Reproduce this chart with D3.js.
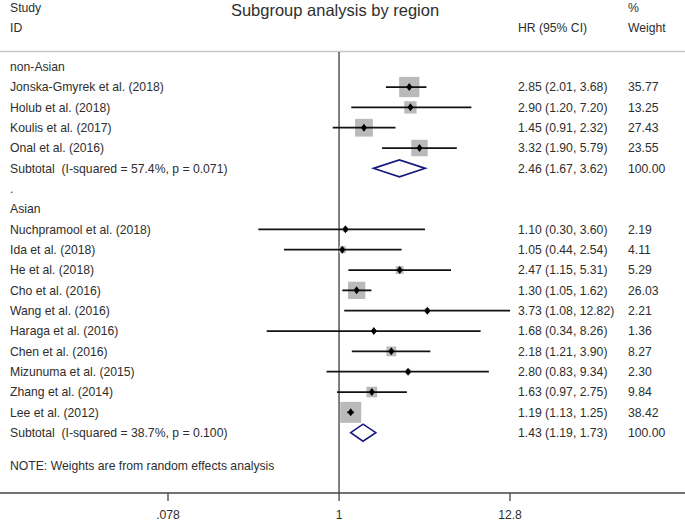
<!DOCTYPE html>
<html><head><meta charset="utf-8">
<script src="https://cdn.jsdelivr.net/npm/d3@7"></script>
<style>
body{margin:0;background:#fff;}
text{font-family:"Liberation Sans",Arial,sans-serif;fill:#2e2e2e;white-space:pre;}
</style></head>
<body><svg id="c" width="685" height="520"></svg>
<script>
const labels = ["non-Asian","Jonska-Gmyrek et al. (2018)","Holub et al. (2018)","Koulis et al. (2017)","Onal et al. (2016)","Subtotal  (I-squared = 57.4%, p = 0.071)",".","Asian","Nuchpramool et al. (2018)","Ida et al. (2018)","He et al. (2018)","Cho et al. (2016)","Wang et al. (2016)","Haraga et al. (2016)","Chen et al. (2016)","Mizunuma et al. (2015)","Zhang et al. (2014)","Lee et al. (2012)","Subtotal  (I-squared = 38.7%, p = 0.100)"];
const kinds  = ["head","study","study","study","study","sub","dot","head","study","study","study","study","study","study","study","study","study","study","sub"];
const hr     = [null,2.85,2.90,1.45,3.32,2.46,null,null,1.10,1.05,2.47,1.30,3.73,1.68,2.18,2.80,1.63,1.19,1.43];
const lo     = [null,2.01,1.20,0.91,1.90,1.67,null,null,0.30,0.44,1.15,1.05,1.08,0.34,1.21,0.83,0.97,1.13,1.19];
const hi     = [null,3.68,7.20,2.32,5.79,3.62,null,null,3.60,2.54,5.31,1.62,12.82,8.26,3.90,9.34,2.75,1.25,1.73];
const weights= [null,35.77,13.25,27.43,23.55,100.00,null,null,2.19,4.11,5.29,26.03,2.21,1.36,8.27,2.30,9.84,38.42,100.00];
const tickVals = [0.078,1,12.8];
const tickLabels = [".078","1","12.8"];

const svg = d3.select("#c");
const x = d3.scaleLog().domain([0.078,12.8]).range([168,510]);
const y = d3.scaleLinear().domain([0,18]).range([66.7,432.7]);
const side = d3.scaleSqrt().domain([0,38.42]).range([0,21]);
const fmt = d3.format(".2f");
const fs = 12.2;

// header
svg.append("text").attr("x",10).attr("y",12).attr("font-size",fs).text("Study");
svg.append("text").attr("x",10).attr("y",31.5).attr("font-size",fs).text("ID");
svg.append("text").attr("x",335).attr("y",16).attr("font-size",16.5).attr("text-anchor","middle").text("Subgroup analysis by region");
svg.append("text").attr("x",518).attr("y",31.5).attr("font-size",fs).text("HR (95% CI)");
svg.append("text").attr("x",628).attr("y",12).attr("font-size",fs).text("%");
svg.append("text").attr("x",628).attr("y",31.5).attr("font-size",fs).text("Weight");
svg.append("line").attr("x1",0).attr("x2",685).attr("y1",51.5).attr("y2",51.5).attr("stroke","#c8c8c8").attr("stroke-width",1.5);

// null line
svg.append("line").attr("x1",x(1)).attr("x2",x(1)).attr("y1",52).attr("y2",493).attr("stroke","#555").attr("stroke-width",1.5);

const rows = labels.map((l,i)=>({l,k:kinds[i],hr:hr[i],lo:lo[i],hi:hi[i],w:weights[i],i}));

// labels
svg.append("g").selectAll("text").data(rows).join("text")
  .attr("x",10).attr("y",d=>y(d.i)+4.3).attr("font-size",fs).attr("xml:space","preserve").text(d=>d.l);

const est = rows.filter(d=>d.hr!==null);
svg.append("g").selectAll("text").data(est).join("text")
  .attr("x",518).attr("y",d=>y(d.i)+4.3).attr("font-size",fs)
  .text(d=>`${fmt(d.hr)} (${fmt(d.lo)}, ${fmt(d.hi)})`);
svg.append("g").selectAll("text").data(est).join("text")
  .attr("x",628).attr("y",d=>y(d.i)+4.3).attr("font-size",fs)
  .text(d=>fmt(d.w));

const st = rows.filter(d=>d.k==="study");
// squares
svg.append("g").selectAll("rect").data(st).join("rect")
  .attr("x",d=>x(d.hr)-side(d.w)/2).attr("y",d=>y(d.i)-side(d.w)/2)
  .attr("width",d=>side(d.w)).attr("height",d=>side(d.w)).attr("fill","#bababa");
// CI lines
svg.append("g").selectAll("line").data(st).join("line")
  .attr("x1",d=>x(d.lo)).attr("x2",d=>x(d.hi)).attr("y1",d=>y(d.i)).attr("y2",d=>y(d.i))
  .attr("stroke","#111").attr("stroke-width",1.8);
// point diamonds
svg.append("g").selectAll("path").data(st).join("path")
  .attr("d",d=>{const cx=x(d.hr),cy=y(d.i);return `M${cx-3},${cy}L${cx},${cy-4}L${cx+3},${cy}L${cx},${cy+4}Z`;})
  .attr("fill","#000");
// subtotal diamonds
svg.append("g").selectAll("path").data(rows.filter(d=>d.k==="sub")).join("path")
  .attr("d",d=>{const cy=y(d.i);return `M${x(d.lo)},${cy}L${x(d.hr)},${cy-8.5}L${x(d.hi)},${cy}L${x(d.hr)},${cy+8.5}Z`;})
  .attr("fill","#fff").attr("stroke","#1a1a80").attr("stroke-width",1.6);

svg.append("text").attr("x",10).attr("y",469.5).attr("font-size",fs).text("NOTE: Weights are from random effects analysis");

// axis
const ax = svg.append("g").attr("transform","translate(0,493)");
ax.append("line").attr("x1",0).attr("x2",685).attr("stroke","#444").attr("stroke-width",1.3);
ax.selectAll("line.t").data(tickVals).join("line").attr("class","t")
  .attr("x1",d=>x(d)).attr("x2",d=>x(d)).attr("y1",0).attr("y2",8).attr("stroke","#444").attr("stroke-width",1.3);
ax.selectAll("text").data(tickVals).join("text")
  .attr("x",d=>x(d)).attr("y",25.5).attr("text-anchor","middle").attr("font-size",fs)
  .text((d,i)=>tickLabels[i]);
</script></body></html>
